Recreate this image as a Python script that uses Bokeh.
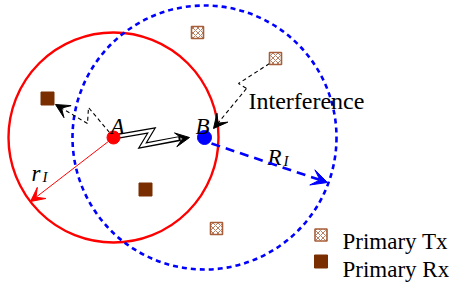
from bokeh.plotting import figure
from bokeh.models import Arrow, VeeHead, Range1d
from bokeh.core.properties import value
from bokeh.embed import file_html
from bokeh.resources import INLINE

# ---- diagram data (reference pixel coordinates, y downward) ----
node_A = (113, 137)
node_B = (204, 137)
radius_rI = 105
radius_RI = 132
tx_x = [197, 275, 216]
tx_y = [32, 58, 228]
rx_x = [47, 145]
rx_y = [98, 189]
legend_labels = ["Primary Tx", "Primary Rx"]
legend_y = [234.5, 261]
legend_x = 320.5
# link paths
bolt_x = [116, 151, 142, 180]
bolt_y = [136, 130, 145, 138]
intf_x = [269, 238, 246, 213]
intf_y = [63, 83, 88, 128]
fb_x = [109, 88, 87, 55]
fb_y = [132, 107, 123, 104]
rI_end = (30, 201)
RI_start = (211, 143)
RI_end = (327, 182)

SERIF = value("Liberation Serif")

W, H = 456, 282

p = figure(width=W, height=H, output_backend="svg", toolbar_location=None,
           x_range=Range1d(0, W), y_range=Range1d(H, 0),
           min_border=0, outline_line_color=None)
p.axis.visible = False
p.grid.visible = False
p.background_fill_color = "white"

# circles
p.circle(x=[node_A[0]], y=[node_A[1]], radius=radius_rI, fill_color=None,
         line_color="#ff0000", line_width=2.4)
p.circle(x=[node_B[0]], y=[node_B[1]], radius=radius_RI, fill_color=None,
         line_color="#0000ff", line_width=2.6, line_dash="5 4")

# r_I arrow
p.add_layout(Arrow(x_start=node_A[0], y_start=node_A[1], x_end=rI_end[0], y_end=rI_end[1],
                   line_color="#ff0000", line_width=1,
                   end=VeeHead(size=14, fill_color="#ff0000", line_color="#ff0000", line_width=1)))
# R_I arrow
p.add_layout(Arrow(x_start=RI_start[0], y_start=RI_start[1], x_end=RI_end[0], y_end=RI_end[1],
                   line_color="#0000ff", line_width=2.6, line_dash="9 6",
                   end=VeeHead(size=16, fill_color="#0000ff", line_color="#0000ff", line_width=1)))

# lightning link (double line)
p.line(bolt_x, bolt_y, line_color="black", line_width=5, line_join="miter")
p.line(bolt_x[:-1] + [bolt_x[-1] - 2], bolt_y[:-1] + [bolt_y[-1]], line_color="white",
       line_width=2.6, line_join="miter")
p.add_layout(Arrow(x_start=bolt_x[-2], y_start=bolt_y[-2], x_end=bolt_x[-1] + 9, y_end=bolt_y[-1] - 1,
                   line_alpha=0,
                   end=VeeHead(size=14, fill_color="black", line_color="black", line_width=1)))

# interference path
p.line(intf_x[:-1], intf_y[:-1], line_color="black", line_width=1.1, line_dash="4 3")
p.add_layout(Arrow(x_start=intf_x[-2], y_start=intf_y[-2], x_end=intf_x[-1], y_end=intf_y[-1],
                   line_color="black", line_width=1.1, line_dash="4 3",
                   end=VeeHead(size=14, fill_color="black", line_color="black", line_width=1)))
# A -> Rx feedback path
p.line(fb_x[:-1], fb_y[:-1], line_color="black", line_width=1.1, line_dash="4 3")
p.add_layout(Arrow(x_start=fb_x[-2], y_start=fb_y[-2], x_end=fb_x[-1], y_end=fb_y[-1],
                   line_color="black", line_width=1.1, line_dash="4 3",
                   end=VeeHead(size=14, fill_color="black", line_color="black", line_width=1)))

# nodes
p.scatter([node_A[0]], [node_A[1]], size=13, marker="circle", fill_color="#ff0000", line_color="#ff0000")
p.scatter([node_B[0]], [node_B[1]], size=14, marker="circle", fill_color="#0000ff", line_color="#0000ff")

# primary users
TX_C = "#a65f3a"
RX_C = "#7a2e00"
p.scatter(tx_x, tx_y, marker="square", size=12, fill_color="white", line_color=TX_C,
          line_width=1.6, hatch_pattern="x", hatch_color=TX_C, hatch_scale=5, hatch_weight=0.8)
p.scatter(rx_x, rx_y, marker="square", size=13, fill_color=RX_C, line_color=RX_C)
p.scatter([legend_x], [legend_y[0]], marker="square", size=12, fill_color="white", line_color=TX_C,
          line_width=1.6, hatch_pattern="x", hatch_color=TX_C, hatch_scale=5, hatch_weight=0.8)
p.scatter([legend_x], [legend_y[1]], marker="square", size=13, fill_color=RX_C, line_color=RX_C)

# texts
p.text(x=[342, 342], y=[240.5, 268.5], text=legend_labels, text_font=SERIF, text_font_size="23px",
       text_baseline="alphabetic", text_color="black")
p.text(x=[248], y=[100.5], text=["Interference"], text_font=SERIF, text_font_size="24px",
       text_baseline="alphabetic", text_color="black")
p.text(x=[110, 195], y=[126, 126], text=["A", "B"], text_font=SERIF, text_font_size="23px",
       text_font_style="italic", text_baseline="alphabetic")
p.text(x=[31, 267], y=[173, 157], text=["r", "R"], text_font=SERIF, text_font_size="23px",
       text_font_style="italic", text_baseline="alphabetic")
p.text(x=[42, 283], y=[176.5, 160.5], text=["I", "I"], text_font=SERIF, text_font_size="15px",
       text_font_style="italic", text_baseline="alphabetic")

open("out.html", "w").write(file_html(p, INLINE))
